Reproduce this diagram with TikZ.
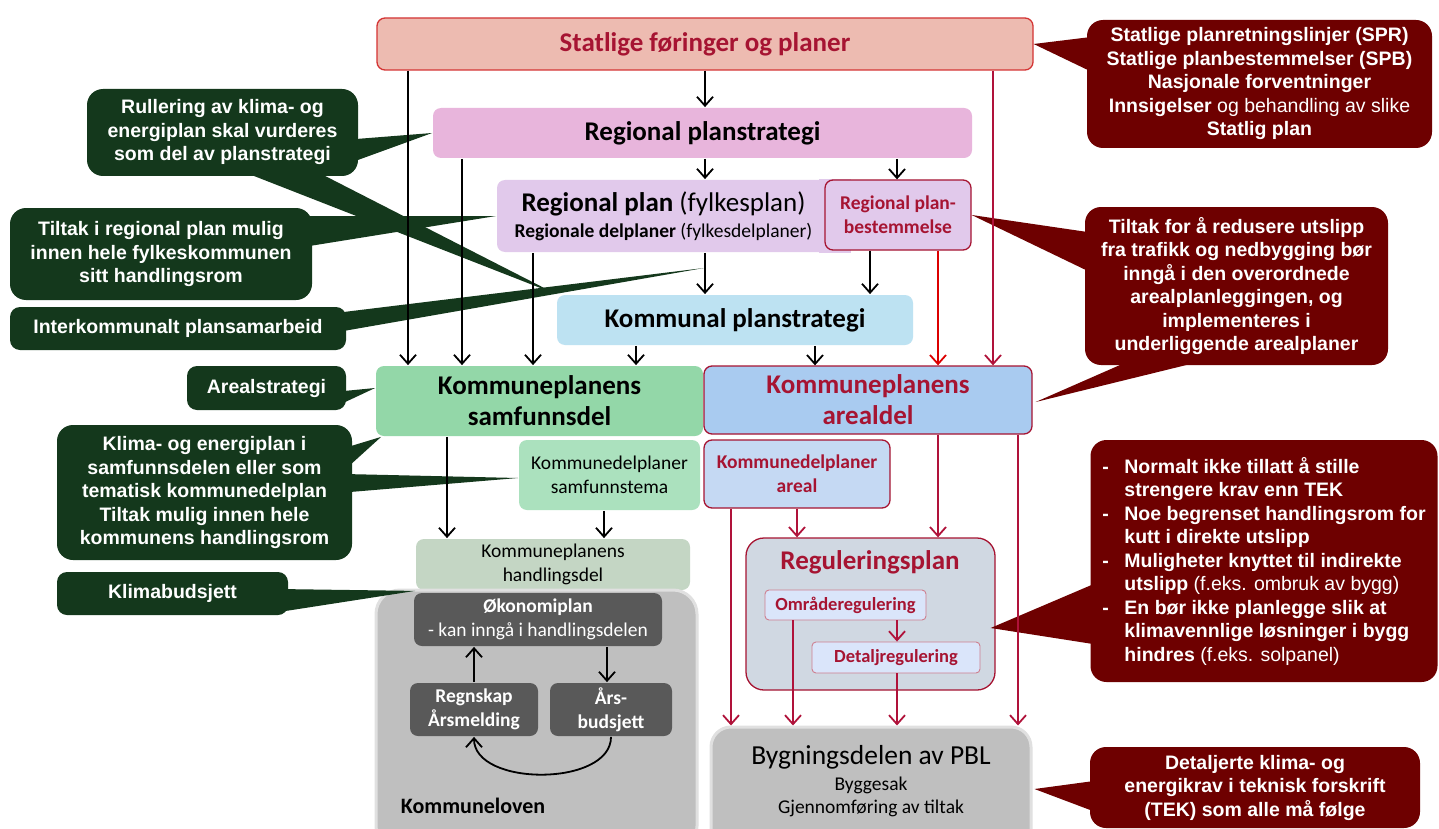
\documentclass[tikz,border=0pt]{standalone}
\usepackage{fontspec}
\setmainfont{Carlito}
\newfontfamily\callfont{Liberation Sans}
\usepackage{xcolor}
\usepackage{tikz}
\usetikzlibrary{arrows.meta}

\definecolor{plred}{RGB}{166,20,50}
\definecolor{stfill}{RGB}{237,187,177}
\definecolor{stline}{RGB}{212,52,52}
\definecolor{rsfill}{RGB}{232,181,220}
\definecolor{rpfill}{RGB}{225,201,235}
\definecolor{ksfill}{RGB}{189,226,242}
\definecolor{sdfill}{RGB}{147,215,168}
\definecolor{stemafill}{RGB}{171,225,190}
\definecolor{hdfill}{RGB}{196,214,196}
\definecolor{adfill}{RGB}{169,203,240}
\definecolor{dafill}{RGB}{197,217,243}
\definecolor{rgfill}{RGB}{208,216,226}
\definecolor{ddfill}{RGB}{218,229,250}
\definecolor{lawgray}{RGB}{191,191,191}
\definecolor{ecogray}{RGB}{89,89,89}
\definecolor{bgreen}{RGB}{20,56,28}
\definecolor{bred}{RGB}{110,0,0}
\definecolor{arrred}{RGB}{176,18,58}
\definecolor{brightred}{RGB}{220,0,0}

\begin{document}
\begin{tikzpicture}[x=1pt,y=-1pt,
    >={Straight Barb[length=9pt,width=16pt]}, line width=1.8pt,
    plbox/.style={rounded corners=8pt, inner sep=0pt, align=center},
    bigtxt/.style={font=\bfseries\fontsize{27}{31}\selectfont},
    smalltxt/.style={font=\fontsize{19.5}{24}\selectfont},
    smallbold/.style={font=\bfseries\fontsize{19.5}{24}\selectfont},
    redline/.style={draw=plred, line width=1.3pt, text=plred},
    bubble/.style={rounded corners=16pt, text=white, align=center, inner sep=0pt,
      font=\callfont\bfseries\fontsize{19.5}{23.5}\selectfont}]
  \path[use as bounding box, fill=white] (0,0) rectangle (1439,829);

  % planning boxes
  \node[plbox, draw=stline, line width=1.3pt, fill=stfill, text=plred, bigtxt,
    minimum width=656, minimum height=52] (statlig) at (705,44) {Statlige føringer og planer};
  \node[plbox, fill=rsfill, bigtxt, minimum width=539, minimum height=50] (regstrat) at (702.5,133) {Regional planstrategi};
  \node[plbox, fill=rpfill, font=\fontsize{19.5}{24}\selectfont, minimum width=333, minimum height=72] (regplan) at (663.5,216)
    {{\fontsize{27}{31}\selectfont\textbf{Regional plan} (fylkesplan)}\\[2pt]\textbf{Regionale delplaner} (fylkesdelplaner)};
  \fill[rpfill] ([xshift=-12]regplan.north east) rectangle ([xshift=20]regplan.south east);
  \node[plbox, redline, fill=rpfill, smallbold, minimum width=146, minimum height=70] (bestem) at (898,215) {Regional plan-\\bestemmelse};
  \node[plbox, fill=ksfill, bigtxt, minimum width=356, minimum height=50] (kommstrat) at (735,320) {Kommunal planstrategi};
  \node[plbox, fill=sdfill, bigtxt, minimum width=327, minimum height=70] (samf) at (539.5,401) {Kommuneplanens\\samfunnsdel};
  \node[plbox, redline, fill=adfill, bigtxt, minimum width=328, minimum height=68] (areal) at (868,400) {Kommuneplanens\\arealdel};
  \node[plbox, fill=stemafill, smalltxt, minimum width=181, minimum height=70] (samftema) at (609.5,475) {Kommunedelplaner\\samfunnstema};
  \node[plbox, redline, fill=dafill, smallbold, minimum width=186, minimum height=68] (delareal) at (797,474) {Kommunedelplaner\\areal};
  \node[plbox, fill=hdfill, smalltxt, minimum width=274, minimum height=51] (handl) at (553,564.5) {Kommuneplanens\\handlingsdel};

  % kommuneloven
  \node[plbox, rounded corners=24pt, fill=lawgray, draw=black!12, line width=3pt,
    minimum width=321, minimum height=260] (kommlov) at (536.5,720) {};
  \node[anchor=base west, inner sep=0pt, font=\bfseries\fontsize{22}{26}\selectfont] (kommlovtxt) at (400,813) {Kommuneloven};
  \node[plbox, fill=ecogray, text=white, smalltxt, minimum width=248, minimum height=53] (okon) at (538,619.5) {\textbf{Økonomiplan}\\- kan inngå i handlingsdelen};
  \node[plbox, fill=ecogray, text=white, smallbold, minimum width=128, minimum height=53] (regnskap) at (474,709.5) {Regnskap\\Årsmelding};
  \node[plbox, fill=ecogray, text=white, smallbold, minimum width=122, minimum height=53] (budsjett) at (611,709.5) {Års-\\budsjett};

  % reguleringsplan
  \node[plbox, rounded corners=18pt, redline, fill=rgfill, minimum width=249, minimum height=152] (regul) at (870.5,614) {};
  \node[inner sep=0pt, text=plred, bigtxt] (regultxt) at (870,562) {Reguleringsplan};
  \node[plbox, rounded corners=4pt, draw=plred!55, line width=0.9pt, fill=ddfill, text=plred,
    font=\bfseries\fontsize{18.5}{22}\selectfont, minimum width=161, minimum height=30] (omr) at (845.5,605) {Områderegulering};
  \node[plbox, rounded corners=4pt, draw=plred!55, line width=0.9pt, fill=ddfill, text=plred,
    font=\bfseries\fontsize{18.5}{22}\selectfont, minimum width=168, minimum height=31] (detalj) at (896,657.5) {Detaljregulering};

  % bygningsdelen
  \node[plbox, rounded corners=20pt, fill=lawgray, draw=black!12, line width=3pt,
    minimum width=320, minimum height=124] (bygg) at (871,789) {};
  \node[align=center, inner sep=0pt, font=\fontsize{19.5}{23}\selectfont] (byggtxt) at (871,781)
    {{\fontsize{27.5}{31}\selectfont Bygningsdelen av PBL}\\[3pt]Byggesak\\Gjennomføring av tiltak};

  % callouts, right
  \node[bubble, fill=bred, minimum width=345, minimum height=128] (cspr) at (1259.5,84)
    {Statlige planretningslinjer (SPR)\\Statlige planbestemmelser (SPB)\\Nasjonale forventninger\\Innsigelser {\mdseries og behandling av slike}\\Statlig plan};
  \fill[bred] ([xshift=4,yshift=-18]cspr.north west) -- (statlig.east) -- ([xshift=4,yshift=-52]cspr.north west) -- cycle;

  \node[bubble, fill=bred, minimum width=303, minimum height=158] (ctilt) at (1236.5,286)
    {Tiltak for å redusere utslipp\\fra trafikk og nedbygging bør\\inngå i den overordnede\\arealplanleggingen, og\\implementeres i\\underliggende arealplaner};
  \fill[bred] ([xshift=4,yshift=-26]ctilt.north west) -- (bestem.east) -- ([xshift=4,yshift=-65]ctilt.north west) -- cycle;
  \fill[bred] ([xshift=43,yshift=4]ctilt.south west) -- ([xshift=3,yshift=-2]areal.east) -- ([xshift=115,yshift=4]ctilt.south west) -- cycle;

  \node[bubble, fill=bred, align=left, minimum width=347, minimum height=242] (ctek) at (1264,561)
    {\makebox[22pt][l]{-}Normalt ikke tillatt å stille\\
     \hspace*{22pt}strengere krav enn TEK\\
     \makebox[22pt][l]{-}Noe begrenset handlingsrom for\\
     \hspace*{22pt}kutt i direkte utslipp\\
     \makebox[22pt][l]{-}Muligheter knyttet til indirekte\\
     \hspace*{22pt}utslipp {\mdseries (f.eks. ombruk av bygg)}\\
     \makebox[22pt][l]{-}En bør ikke planlegge slik at\\
     \hspace*{22pt}klimavennlige løsninger i bygg\\
     \hspace*{22pt}hindres {\mdseries (f.eks. solpanel)}};
  \fill[bred] ([xshift=4,yshift=-145]ctek.north west) -- ([xshift=-5,yshift=-14]regul.east) -- ([xshift=4,yshift=-205]ctek.north west) -- cycle;

  \node[bubble, fill=bred, minimum width=330, minimum height=81] (cdet) at (1255,787.5)
    {Detaljerte klima- og\\energikrav i teknisk forskrift\\(TEK) som alle må følge};
  \fill[bred] ([xshift=4,yshift=-35]cdet.north west) -- ([xshift=2]bygg.east) -- ([xshift=4,yshift=-65]cdet.north west) -- cycle;

  % callouts, left
  \node[bubble, fill=bgreen, minimum width=271, minimum height=87] (crull) at (222.5,132.5)
    {Rullering av klima- og\\energiplan skal vurderes\\som del av planstrategi};
  \fill[bgreen] ([xshift=-4,yshift=-51]crull.north east) -- (regstrat.west) -- ([xshift=-4,yshift=-73]crull.north east) -- cycle;
  \fill[bgreen] ([xshift=160,yshift=4]crull.south west) -- (kommstrat.north west) -- ([xshift=233,yshift=4]crull.south west) -- cycle;

  \node[bubble, fill=bgreen, minimum width=302, minimum height=92] (ctreg) at (161,254)
    {Tiltak i regional plan mulig\\innen hele fylkeskommunen\\sitt handlingsrom};
  \fill[bgreen] ([xshift=-4,yshift=-9]ctreg.north east) -- (regplan.west) -- ([xshift=-4,yshift=-39]ctreg.north east) -- cycle;

  \coordinate (intertip) at (704,268);
  \node[bubble, rounded corners=10pt, fill=bgreen, minimum width=336, minimum height=43] (cinter) at (178,328.5) {Interkommunalt plansamarbeid};
  \fill[bgreen] ([xshift=-4,yshift=-6]cinter.north east) -- (intertip) -- ([xshift=-4,yshift=-25]cinter.north east) -- cycle;

  \node[bubble, rounded corners=10pt, fill=bgreen, minimum width=159, minimum height=44] (careal) at (266.5,388) {Arealstrategi};
  \fill[bgreen] ([xshift=-4,yshift=-26]careal.north east) -- ([yshift=13]samf.west) -- ([xshift=-4,yshift=-38]careal.north east) -- cycle;

  \node[bubble, fill=bgreen, minimum width=295, minimum height=135] (cklima) at (204.5,492.5)
    {Klima- og energiplan i\\samfunnsdelen eller som\\tematisk kommunedelplan\\Tiltak mulig innen hele\\kommunens handlingsrom};
  \fill[bgreen] ([xshift=-22,yshift=-28]cklima.north east) -- ([xshift=6]samf.south west) -- ([xshift=-4,yshift=-42]cklima.north east) -- cycle;
  \fill[bgreen] ([xshift=-4,yshift=-50]cklima.north east) -- ([yshift=-3]samftema.west) -- ([xshift=-4,yshift=-68]cklima.north east) -- cycle;

  \node[bubble, rounded corners=10pt, fill=bgreen, minimum width=231, minimum height=43] (cbud) at (172.5,593.5) {Klimabudsjett};
  \fill[bgreen] ([xshift=-4,yshift=-18]cbud.north east) -- (handl.south west) -- ([xshift=-4,yshift=-40]cbud.north east) -- cycle;

  % arrows
  \draw[->] (statlig.south -| 408,0) -- (samf.north -| 408,0);
  \draw[->] (statlig.south -| 705,0) -- (regstrat.north -| 705,0);
  \draw[->, arrred] (statlig.south -| 993,0) -- (areal.north -| 993,0);
  \draw[->] (regstrat.south -| 462,0) -- (samf.north -| 462,0);
  \draw[->] (regstrat.south -| 705,0) -- (regplan.north -| 705,0);
  \draw[->] (regstrat.south -| 897,0) -- (bestem.north -| 897,0);
  \draw[->] (regplan.south -| 533,0) -- (samf.north -| 533,0);
  \draw[->] (regplan.south -| 705,0) -- (kommstrat.north -| 705,0);
  \draw[->] (bestem.south -| 870,0) -- (kommstrat.north -| 870,0);
  \draw[->, brightred] (bestem.south -| 938,0) -- (areal.north -| 938,0);
  \draw[->] (kommstrat.south -| 636,0) -- (samf.north -| 636,0);
  \draw[->] (kommstrat.south -| 815,0) -- (areal.north -| 815,0);
  \draw[->] (samf.south -| 447,0) -- (handl.north -| 447,0);
  \draw[->] (samftema.south -| 604,0) -- (handl.north -| 604,0);
  \draw[->, arrred] (areal.south -| 938,0) -- (regul.north -| 938,0);
  \draw[->, arrred] (areal.south -| 1018,0) -- (bygg.north -| 1018,0);
  \draw[->, arrred] (delareal.south -| 797,0) -- (regul.north -| 797,0);
  \draw[->, arrred] (delareal.south -| 731,0) -- (bygg.north -| 731,0);
  \draw[->, arrred] (omr.south -| 793,0) -- (bygg.north -| 793,0);
  \draw[->, arrred] (omr.south -| 897,0) -- (detalj.north -| 897,0);
  \draw[->, arrred] (detalj.south -| 897,0) -- (bygg.north -| 897,0);
  \draw[->] (regnskap.north) -- (okon.south -| regnskap.north);
  \draw[->] (okon.south -| 607,0) -- (budsjett.north -| 607,0);
  \draw[->] (budsjett.south) .. controls +(0,50) and +(0,50) .. (regnskap.south);
\end{tikzpicture}
\end{document}
